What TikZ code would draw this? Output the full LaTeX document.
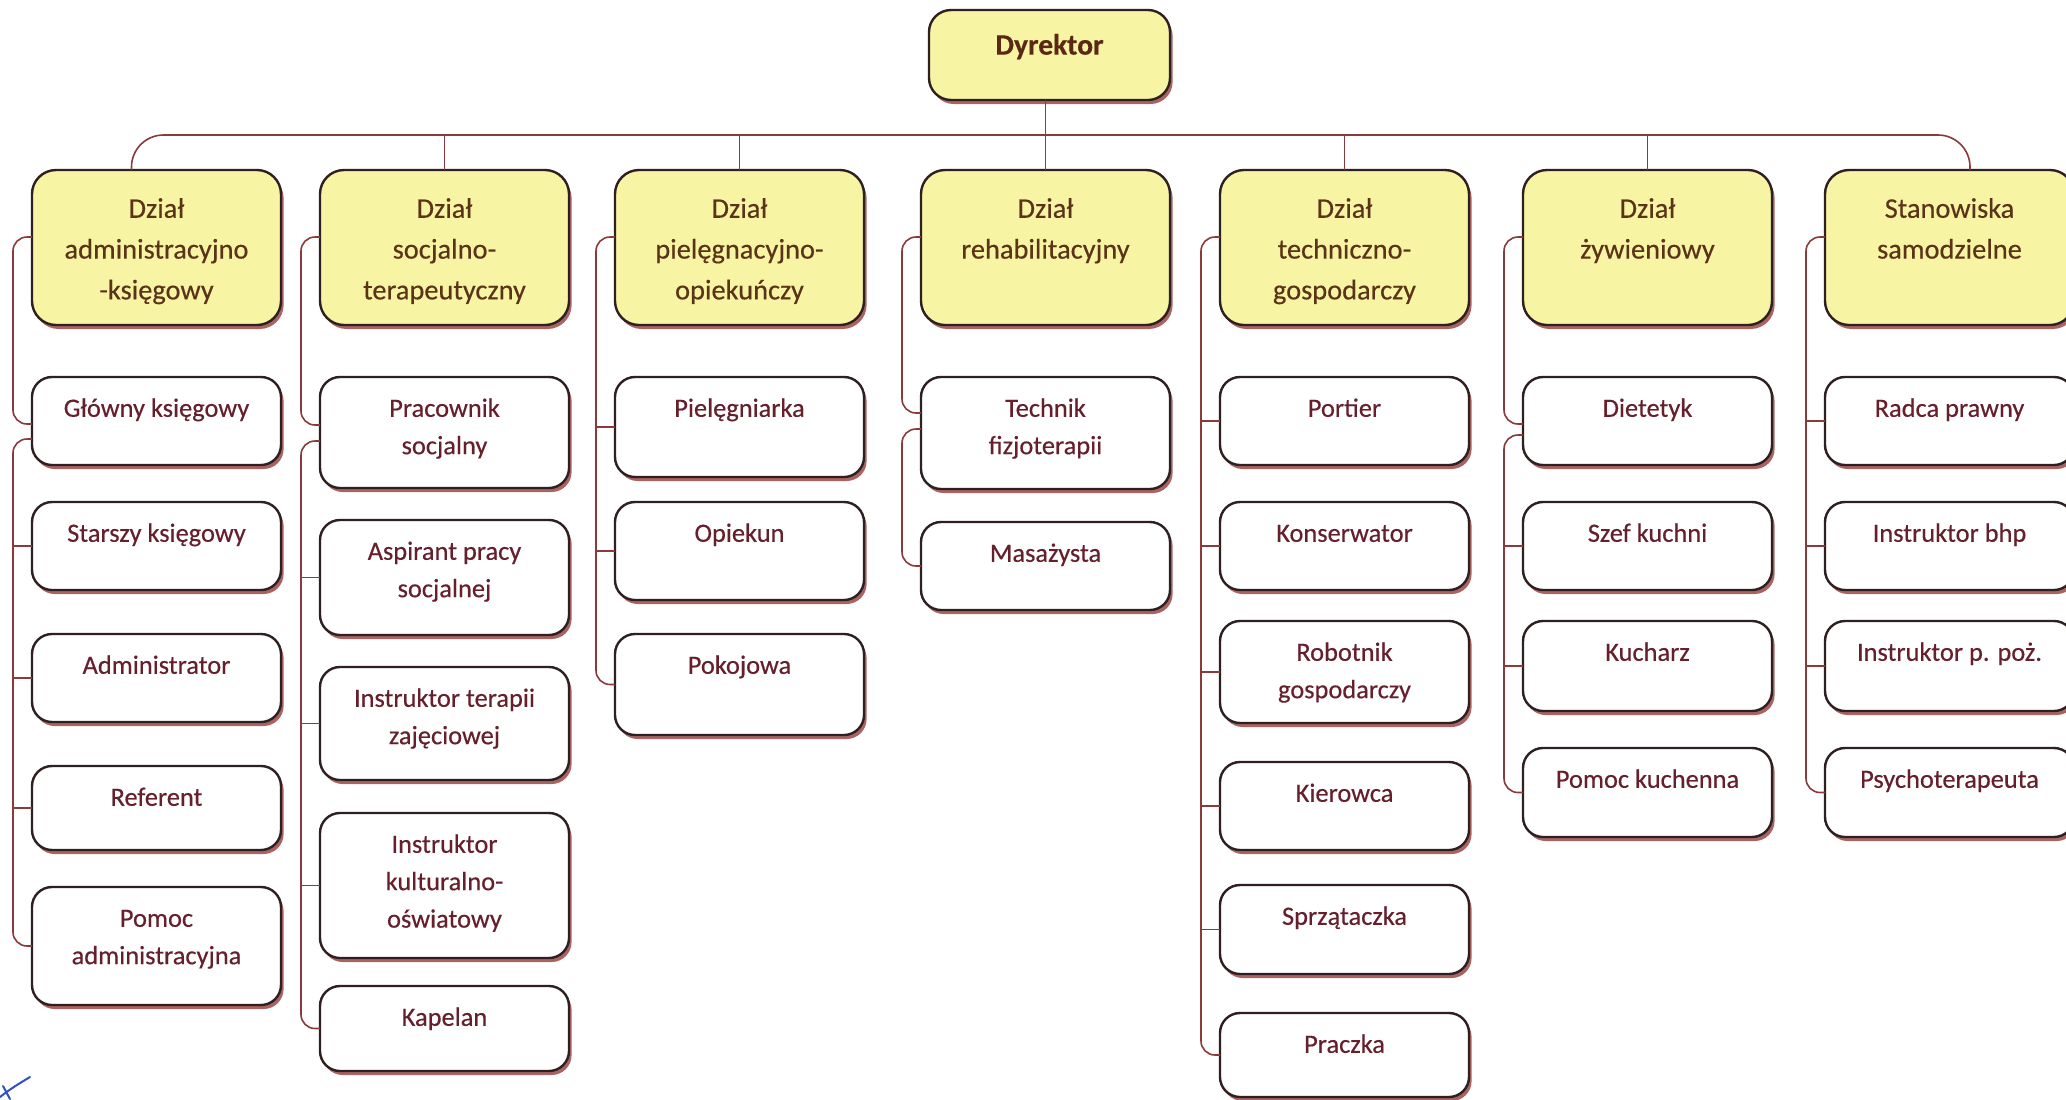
\documentclass[tikz,border=0pt]{standalone}
\usepackage{fontspec}
\setmainfont{Carlito}[FakeBold=0.35]
\usetikzlibrary{shadows}
\definecolor{deptfill}{HTML}{F7F4A4}
\definecolor{boxline}{HTML}{2E2020}
\definecolor{shadowc}{HTML}{8E2F2F}
\definecolor{connc}{HTML}{8B3A3A}
\definecolor{depttext}{HTML}{5A3318}
\definecolor{childtext}{HTML}{66202C}
\definecolor{dirtext}{HTML}{5A2814}
\definecolor{inkblue}{HTML}{3050C8}
\newcommand\childfont{\fontsize{13.2pt}{18.7pt}\selectfont}
\newcommand\deptfont{\fontsize{14.2pt}{20.4pt}\selectfont}
\newcommand\ct[2]{\parbox[c][#1][t]{124.5pt}{\centering\vspace*{6.8pt}\strut#2\par}}
\newcommand\dt[1]{\parbox[c][77.5pt][t]{124.5pt}{\centering\vspace*{9.6pt}\strut#1\par}}
\tikzset{
  base/.style={draw=boxline, line width=1.2pt, inner sep=0pt, outer sep=0pt, anchor=north west,
    drop shadow={shadow xshift=1.3pt, shadow yshift=-2pt, fill=shadowc, opacity=0.75}},
  child/.style={base, rounded corners=10pt, fill=white, text=childtext, font=\childfont},
  dept/.style={base, rounded corners=12pt, fill=deptfill, text=depttext, font=\deptfont},
  director/.style={base, rounded corners=11pt, fill=deptfill, text=dirtext,
    font=\fontsize{14.8pt}{20pt}\selectfont\bfseries},
  conn/.style={draw=connc, line width=0.8pt, rounded corners=7pt},
}
\begin{document}
\begin{tikzpicture}[x=0.5pt, y=-0.5pt]
\clip (0,0) rectangle (2066,1099);
\fill[white] (0,0) rectangle (2066,1099);

% director
\node[director] (dyr) at (929,10) {\parbox[c][45pt][t]{120.5pt}{\centering\vspace*{8.3pt}\strut Dyrektor\par}};

% departments
\node[dept] (d1) at (32,170)   {\dt{Dział\\administracyjno\\-księgowy}};
\node[dept] (d2) at (320,170)  {\dt{Dział\\socjalno-\\terapeutyczny}};
\node[dept] (d3) at (615,170)  {\dt{Dział\\pielęgnacyjno-\\opiekuńczy}};
\node[dept] (d4) at (921,170)  {\dt{Dział\\rehabilitacyjny}};
\node[dept] (d5) at (1220,170) {\dt{Dział\\techniczno-\\gospodarczy}};
\node[dept] (d6) at (1523,170) {\dt{Dział\\żywieniowy}};
\node[dept] (d7) at (1825,170) {\dt{Stanowiska\\samodzielne}};

% column 1
\node[child] (a1) at (32,377) {\ct{44pt}{Główny księgowy}};
\node[child] (a2) at (32,502) {\ct{44pt}{Starszy księgowy}};
\node[child] (a3) at (32,634) {\ct{44pt}{Administrator}};
\node[child] (a4) at (32,766) {\ct{42pt}{Referent}};
\node[child] (a5) at (32,887) {\ct{59pt}{Pomoc\\administracyjna}};

% column 2
\node[child] (b1) at (320,377) {\ct{55.5pt}{Pracownik\\socjalny}};
\node[child] (b2) at (320,520) {\ct{57.5pt}{Aspirant pracy\\socjalnej}};
\node[child] (b3) at (320,667) {\ct{56.5pt}{Instruktor terapii\\zajęciowej}};
\node[child] (b4) at (320,813) {\ct{72.5pt}{Instruktor\\kulturalno-\\oświatowy}};
\node[child] (b5) at (320,986) {\ct{42.5pt}{Kapelan}};

% column 3
\node[child] (c1) at (615,377) {\ct{50pt}{Pielęgniarka}};
\node[child] (c2) at (615,502) {\ct{49pt}{Opiekun}};
\node[child] (c3) at (615,634) {\ct{50.5pt}{Pokojowa}};

% column 4
\node[child] (e1) at (921,377) {\ct{56pt}{Technik\\fizjoterapii}};
\node[child] (e2) at (921,522) {\ct{44pt}{Masażysta}};

% column 5
\node[child] (f1) at (1220,377)  {\ct{44pt}{Portier}};
\node[child] (f2) at (1220,502)  {\ct{44pt}{Konserwator}};
\node[child] (f3) at (1220,621)  {\ct{51pt}{Robotnik\\gospodarczy}};
\node[child] (f4) at (1220,762)  {\ct{44pt}{Kierowca}};
\node[child] (f5) at (1220,885)  {\ct{44.5pt}{Sprzątaczka}};
\node[child] (f6) at (1220,1013) {\ct{42pt}{Praczka}};

% column 6
\node[child] (g1) at (1523,377) {\ct{44pt}{Dietetyk}};
\node[child] (g2) at (1523,502) {\ct{44pt}{Szef kuchni}};
\node[child] (g3) at (1523,621) {\ct{45pt}{Kucharz}};
\node[child] (g4) at (1523,748) {\ct{44.5pt}{Pomoc kuchenna}};

% column 7
\node[child] (h1) at (1825,377) {\ct{44pt}{Radca prawny}};
\node[child] (h2) at (1825,502) {\ct{44pt}{Instruktor bhp}};
\node[child] (h3) at (1825,621) {\ct{45pt}{Instruktor p. poż.}};
\node[child] (h4) at (1825,748) {\ct{44.5pt}{Psychoterapeuta}};

% top bus
\coordinate (bus) at (0,135);
\draw[conn, rounded corners=16pt] ([xshift=-12.5pt]d1.north) -- ([xshift=-12.5pt]d1.north |- bus)
  -- ([xshift=10.25pt]d7.north |- bus) -- ([xshift=10.25pt]d7.north);
\draw[conn] (d4.north |- dyr.south) -- (d4.north);
\foreach \d in {d2,d3,d5,d6} \draw[conn] (\d.north) -- (\d.north |- bus);

% column 1 connectors
\draw[conn] ([yshift=-33.5pt]d1.north west) -| ([xshift=-9.5pt,yshift=-23.5pt]a1.north west) -- ([yshift=-23.5pt]a1.north west);
\draw[conn] ([yshift=-31pt]a1.north west) -| ([xshift=-9.5pt]a5.west) -- (a5.west);
\foreach \n in {a2,a3,a4} \draw[conn] (\n.west) -- ++(-9.5pt,0);

% column 2 connectors
\draw[conn] ([yshift=-33.5pt]d2.north west) -| ([xshift=-9.5pt,yshift=-24pt]b1.north west) -- ([yshift=-24pt]b1.north west);
\draw[conn] ([yshift=-32pt]b1.north west) -| ([xshift=-9.5pt]b5.west) -- (b5.west);
\foreach \n in {b2,b3,b4} \draw[conn] (\n.west) -- ++(-9.5pt,0);

% column 3 connectors
\draw[conn] ([yshift=-33.5pt]d3.north west) -| ([xshift=-9.5pt]c3.west) -- (c3.west);
\foreach \n in {c1,c2} \draw[conn] (\n.west) -- ++(-9.5pt,0);

% column 4 connectors
\draw[conn] ([yshift=-33.5pt]d4.north west) -| ([xshift=-9.5pt,yshift=-18pt]e1.north west) -- ([yshift=-18pt]e1.north west);
\draw[conn] ([yshift=-26pt]e1.north west) -| ([xshift=-9.5pt]e2.west) -- (e2.west);

% column 5 connectors
\draw[conn] ([yshift=-33.5pt]d5.north west) -| ([xshift=-9.5pt]f6.west) -- (f6.west);
\foreach \n in {f1,f2,f3,f4,f5} \draw[conn] (\n.west) -- ++(-9.5pt,0);

% column 6 connectors
\draw[conn] ([yshift=-33.5pt]d6.north west) -| ([xshift=-9.5pt,yshift=-23.5pt]g1.north west) -- ([yshift=-23.5pt]g1.north west);
\draw[conn] ([yshift=-29pt]g1.north west) -| ([xshift=-9.5pt]g4.west) -- (g4.west);
\foreach \n in {g2,g3} \draw[conn] (\n.west) -- ++(-9.5pt,0);

% column 7 connectors
\draw[conn] ([yshift=-33.5pt]d7.north west) -| ([xshift=-9.5pt]h4.west) -- (h4.west);
\foreach \n in {h1,h2,h3} \draw[conn] (\n.west) -- ++(-9.5pt,0);

% ink mark
\draw[inkblue, line width=1pt, line cap=round] (0,1097) .. controls (10,1089) and (20,1083) .. (30,1077);
\draw[inkblue, line width=1pt, line cap=round] (3,1086) -- (10,1099);
\end{tikzpicture}
\end{document}
